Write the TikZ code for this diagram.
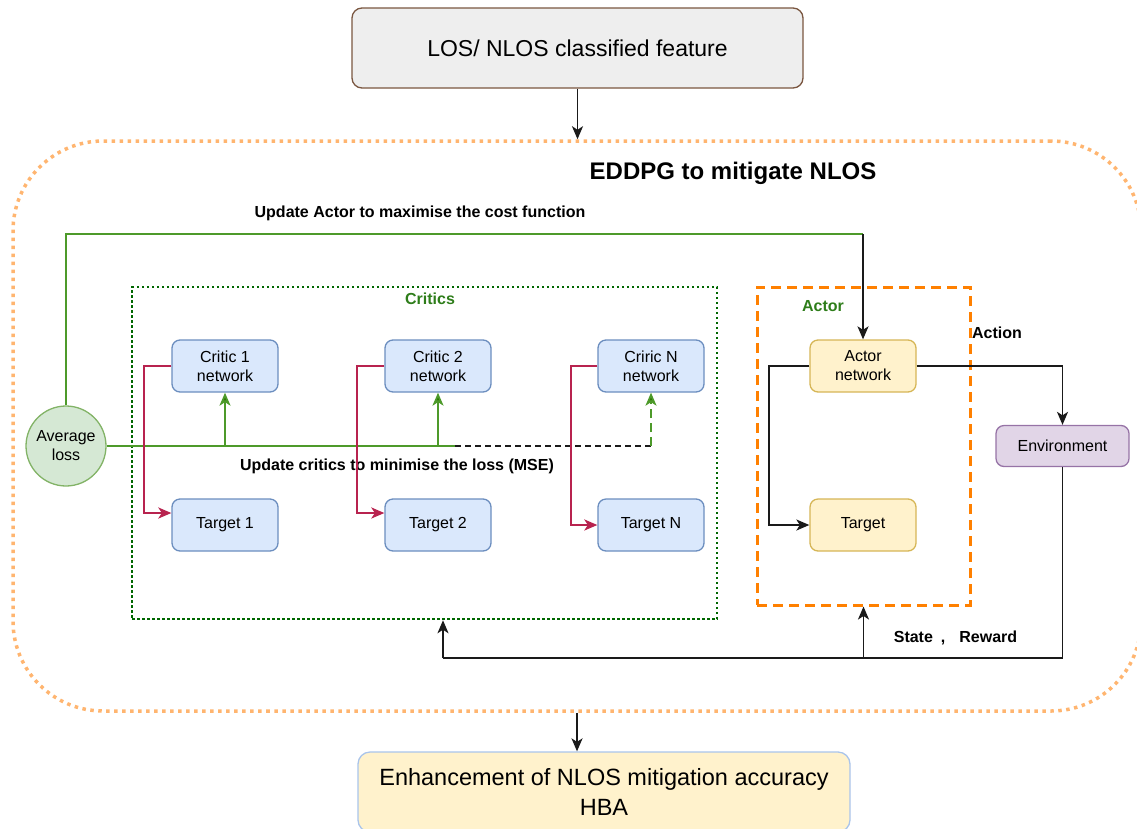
\documentclass[tikz,border=0pt]{standalone}
\usepackage{fontspec}
\setmainfont{Liberation Sans}
\usetikzlibrary{arrows.meta,calc}

\definecolor{outerorange}{HTML}{FFB570}
\definecolor{actororange}{HTML}{FF8000}
\definecolor{critgreen}{HTML}{006600}
\definecolor{labgreen}{HTML}{2E7D1A}
\definecolor{lossgreen}{HTML}{4D9A2A}
\definecolor{tipgreen}{HTML}{2D7600}
\definecolor{linkred}{HTML}{B8234F}
\definecolor{bluefill}{HTML}{DAE8FC}
\definecolor{blueline}{HTML}{6C8EBF}
\definecolor{yelfill}{HTML}{FFF2CC}
\definecolor{yelline}{HTML}{D6B656}
\definecolor{purfill}{HTML}{E1D5E7}
\definecolor{purline}{HTML}{9673A6}
\definecolor{circfill}{HTML}{D5E8D4}
\definecolor{circline}{HTML}{82B366}
\definecolor{greyfill}{HTML}{EEEEEE}
\definecolor{brownline}{HTML}{7A5640}
\definecolor{paleblue}{HTML}{A9C4EB}
\definecolor{ink}{HTML}{1A1A1A}

\tikzset{
  tip/.style={-{Stealth[length=13pt,width=11pt,inset=3.5pt]}},
  netbox/.style={draw=blueline, fill=bluefill, line width=1.3pt, rounded corners=8pt,
    minimum width=106pt, minimum height=52pt, align=center, inner sep=2pt,
    font=\fontsize{16}{19}\selectfont},
  actbox/.style={netbox, draw=yelline, fill=yelfill},
  blk/.style={draw=ink, line width=1.8pt, tip},
  blkplain/.style={draw=ink, line width=1.8pt},
  gline/.style={draw=lossgreen, line width=1.8pt},
  garrow/.style={draw=lossgreen, line width=1.8pt, -{Stealth[length=13pt,width=11pt,inset=3.5pt,fill=tipgreen]}, color=lossgreen},
  rline/.style={draw=linkred, line width=2.2pt, tip},
  boldlab/.style={font=\bfseries\fontsize{16}{19}\selectfont, inner sep=0pt},
}

\begin{document}
\begin{tikzpicture}[x=1pt, y=-1pt]
\useasboundingbox (0,0) rectangle (1137,828);

% outer EDDPG region
\node[draw=outerorange, line width=3.5pt, dash pattern=on 3.5pt off 4.5pt,
      rounded corners=90pt, minimum width=1128pt, minimum height=570pt, inner sep=0pt]
      (outer) at (577,426) {};

% input and output blocks
\node[draw=brownline, fill=greyfill, line width=1.3pt, rounded corners=10pt,
      minimum width=451pt, minimum height=80pt, font=\fontsize{23}{27}\selectfont]
      (top) at (577.5,48) {LOS/ NLOS classified feature};
\node[draw=paleblue, fill=yelfill, line width=1.3pt, rounded corners=12pt,
      minimum width=492pt, minimum height=80pt, align=center,
      font=\fontsize{23.5}{30}\selectfont]
      (bottom) at (604,792) {Enhancement of NLOS mitigation accuracy\\HBA};

% group frames
\node[draw=critgreen, line width=2.5pt, dash pattern=on 2.5pt off 2.5pt,
      minimum width=585pt, minimum height=332pt, inner sep=0pt]
      (critics) at (424.5,453) {};
\node[draw=actororange, line width=3pt, dash pattern=on 10pt off 6pt,
      minimum width=213pt, minimum height=318pt, inner sep=0pt]
      (actframe) at (863.5,446) {};

% titles and labels
\node[font=\bfseries\fontsize{24}{28}\selectfont, inner sep=0pt] (title) at (733,173) {EDDPG to mitigate NLOS};
\node[boldlab] (updact) at (420,213) {Update Actor to maximise the cost function};
\node[boldlab, text=labgreen] (critlab) at (430,299) {Critics};
\node[boldlab, text=labgreen] (actlab) at (823,306) {Actor};
\node[boldlab] (updcrit) at (397,466) {Update critics to minimise the loss (MSE)};
\node[boldlab] (action) at (997,333) {Action};
\node[boldlab] (statereward) at (955.5,638) {State\hspace{8pt},\hspace{14pt}Reward};

% critic networks and their targets
\node[netbox] (c1) at (225,366) {Critic 1\\network};
\node[netbox] (c2) at (438,366) {Critic 2\\network};
\node[netbox] (cN) at (651,366) {Criric N\\network};
\node[netbox] (t1) at (225,525) {Target 1};
\node[netbox] (t2) at (438,525) {Target 2};
\node[netbox] (tN) at (651,525) {Target N};

% actor side
\node[actbox] (actnet) at (863,366) {Actor\\network};
\node[actbox] (acttgt) at (863,525) {Target};
\node[draw=purline, fill=purfill, line width=1.3pt, rounded corners=8pt,
      minimum width=133pt, minimum height=41pt, font=\fontsize{16}{19}\selectfont]
      (env) at (1062.5,446) {Environment};

% loss node
\node[circle, draw=circline, fill=circfill, line width=1.3pt, minimum size=80pt,
      inner sep=0pt, align=center, font=\fontsize{16}{19}\selectfont]
      (avg) at (66,446) {Average\\loss};

% helper points
\coordinate (acttop) at (863,234);
\coordinate (gend) at (455,446);
\coordinate (sr) at (443,658);

% flow in and out of the EDDPG region
\draw[blk] (top.south) -- (top.south |- outer.north);
\draw[blk] (outer.south) -- (outer.south |- bottom.north);

% actor update from the loss
\draw[gline] (avg.north) |- (acttop);
\draw[blk] (acttop) -- (actnet.north);

% critic updates from the loss
\draw[gline] (avg.east) -- (gend);
\draw[garrow] (c1.south |- avg.east) -- (c1.south);
\draw[garrow] (c2.south |- avg.east) -- (c2.south);
\draw[draw=ink, line width=1.5pt, dash pattern=on 6pt off 4pt] (gend) -- (cN.south |- avg.east);
\draw[garrow, dash pattern=on 9pt off 5pt] (cN.south |- avg.east) -- (cN.south);

% critic to target copies
\draw[rline] (c1.west) -- ++(-27,0) |- ([yshift=12pt]t1.west);
\draw[rline] (c2.west) -- ++(-27,0) |- ([yshift=12pt]t2.west);
\draw[rline] (cN.west) -- ++(-26,0) |- (tN.west);

% actor to its target and to the environment
\draw[blk] (actnet.west) -- ++(-40,0) |- (acttgt.west);
\draw[blk] (actnet.east) -| (env.north);

% state and reward feedback
\draw[blkplain] (env.south) |- (sr);
\draw[blk] (sr) -- (sr |- critics.south);
\draw[blk] (actframe.south |- sr) -- (actframe.south);
\end{tikzpicture}
\end{document}
